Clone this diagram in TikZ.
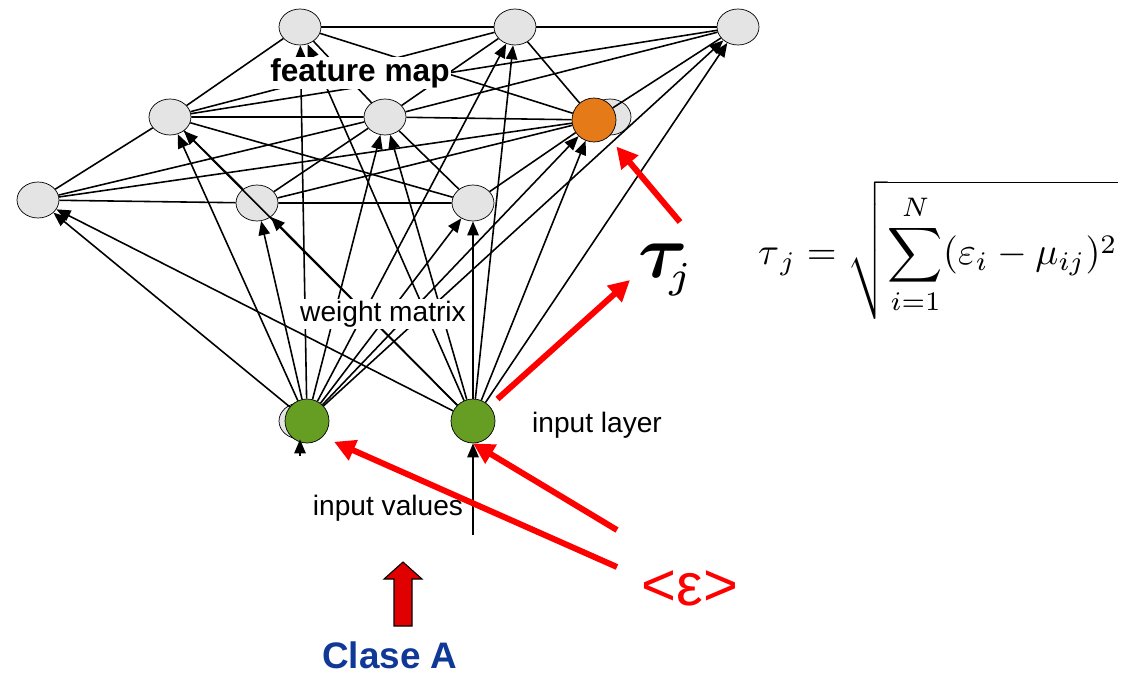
\documentclass[tikz,border=0pt]{standalone}
\usepackage{amsmath,amssymb}
\usepackage{bm}
\usepackage{graphicx}
\usepackage{fontspec}
\setsansfont{Liberation Sans}
\usepackage{tikz}
\usetikzlibrary{arrows.meta,calc,positioning,shapes.geometric}
\definecolor{mapgray}{RGB}{228,228,228}
\definecolor{wingreen}{RGB}{101,158,35}
\definecolor{bmuorange}{RGB}{228,122,24}
\definecolor{claseblue}{RGB}{16,56,150}
\definecolor{hintred}{RGB}{255,0,0}
\definecolor{blockred}{RGB}{224,0,0}

\begin{document}
\begin{tikzpicture}[x=0.02cm,y=-0.02cm,
  unit/.style={ellipse,draw,fill=mapgray,minimum width=0.84cm,
               minimum height=0.72cm,inner sep=0pt},
  inp/.style={circle,draw,fill=wingreen,minimum size=0.88cm,inner sep=0pt},
  link/.style={line width=0.9pt},
  feed/.style={line width=0.9pt,-{Triangle[length=8pt,width=6.5pt]}},
  hint/.style={hintred,line width=3.4pt,-{Triangle[length=12pt,width=12pt]}},
  lbl/.style={font=\sffamily\fontsize{16}{19}\selectfont,fill=white,inner sep=1pt}]
%
  \useasboundingbox (0,0) rectangle (1124,676);
  \clip (0,0) rectangle (1124,676);
%
  % feature map
  \node[unit] (m11) at (300,27) {};
  \node[unit] (m12) at (515,27) {};
  \node[unit] (m13) at (738,27) {};
  \node[unit] (m21) at (170,117) {};
  \node[unit] (m22) at (385,117) {};
  \node[unit] (m23b) at (610,117) {};
  \node[inp,fill=bmuorange] (m23) at (594,120) {};
  \node[unit] (m31) at (38,200) {};
  \node[unit] (m32) at (257,203) {};
  \node[unit] (m33) at (473,203) {};
  % input layer
  \node[unit] (in1b) at (300,421) {};
  \node[inp] (in1) at (307,421) {};
  \node[inp] (in2) at (473,421) {};
%
  \foreach \r in {1,2,3}
    \draw[link] (m\r1) -- (m\r2) -- (m\r3) ;
  \foreach \a/\b in {1/2,2/3}
    \foreach \i in {1,2,3}
      \foreach \k in {1,2,3}
        \draw[link] (m\a\i) -- (m\b\k) ;
  \foreach \n in {in1,in2}
    \foreach \r in {1,2,3}
      \foreach \c in {1,2,3}
        \draw[feed] (\n) -- (m\r\c) ;
%
  \coordinate (src1) at (300,456) ;
  \coordinate (src2) at (473,535) ;
  \draw[feed] (src1) -- (in1b.south) ;
  \draw[feed] (src2) -- (in2) ;
%
  \node[lbl,font=\sffamily\bfseries\fontsize{18}{21}\selectfont] (fmap) at (360,73) {feature map} ;
  \node[lbl] (wmat) at (383,314) {weight matrix} ;
  \node[lbl,fill=none] (ilay) at (597,425) {input layer} ;
  \node[lbl] (ival) at (388,508) {input values} ;
%
  \node (tau) at (667,270) {\scalebox{4.3}{$\bm{\tau}_{\!\scriptscriptstyle j}$}} ;
  \node[anchor=west] (dist) at (752,250)
    {\scalebox{2.18}{$\displaystyle \tau_{\,j} = \sqrt{\sum_{i=1}^{N} (\varepsilon_i - \mu_{ij})^2}$}} ;
  \node[text=hintred,font=\sffamily\fontsize{34}{40}\selectfont] (eps) at (690,588) {<ε>} ;
%
  \coordinate (t1) at (680,222) ;
  \coordinate (t2) at (630,280) ;
  \coordinate (e1) at (617,530) ;
  \coordinate (e2) at (617,567) ;
  \draw[hint,shorten >=7pt] (t1) -- (m23) ;
  \draw[hint,shorten <=6pt] (in2) -- (t2) ;
  \draw[hint] (e1) -- (in2.south) ;
  \draw[hint,shorten >=7pt] (e2) -- (in1.south east) ;
%
  \draw[fill=blockred,line width=0.6pt] (394,626) -- (394,579) -- (384,579) -- (403,562)
    -- (422,579) -- (412,579) -- (412,626) -- cycle ;
  \node[font=\sffamily\bfseries\fontsize{21}{25}\selectfont,text=claseblue] (clase) at (390,655) {Clase A} ;
%
\end{tikzpicture}
\end{document}
